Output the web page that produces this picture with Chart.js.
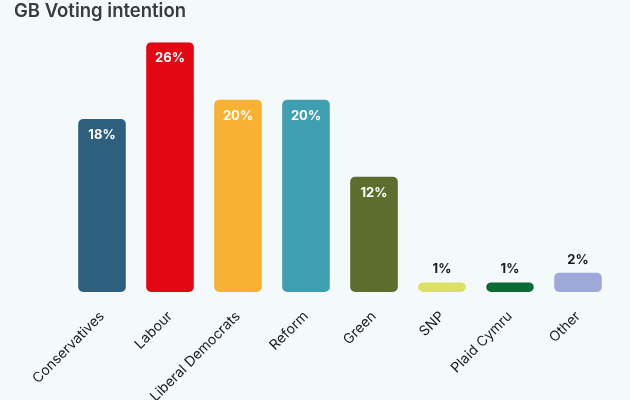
<!DOCTYPE html>
<html>
<head>
<meta charset="utf-8">
<script src="https://cdn.jsdelivr.net/npm/chart.js@4"></script>
<style>
  html, body { margin: 0; padding: 0; background: #f4f9fb; overflow: hidden; }
  #wrap { width: 630px; height: 400px; }
</style>
</head>
<body>
<div id="wrap"><canvas id="chartCanvas"></canvas></div>
<script>
// Data
const parties = ["Conservatives", "Labour", "Liberal Democrats", "Reform", "Green", "SNP", "Plaid Cymru", "Other"];
const shares = [18, 26, 20, 20, 12, 1, 1, 2];
const partyColors = ["#2e5f7f", "#e30613", "#f8b133", "#409eb3", "#5b6e2c", "#dbdf63", "#0b6b35", "#9fa9d9"];

const FONT = "Inter, Lato, sans-serif";

// value labels: inside for tall bars, above for short ones
const valueLabels = {
    id: "valueLabels",
    afterDatasetsDraw(chart) {
        const ctx = chart.ctx;
        const meta = chart.getDatasetMeta(0);
        ctx.save();
        ctx.font = "bold 13px " + FONT;
        ctx.textAlign = "center";
        ctx.textBaseline = "middle";
        meta.data.forEach((bar, i) => {
            const v = shares[i];
            if (v >= 10) {
                ctx.fillStyle = "#ffffff";
                ctx.fillText(v + "%", bar.x, bar.y + 16);
            } else {
                ctx.fillStyle = "#1a1a1a";
                ctx.fillText(v + "%", bar.x, bar.y - 13);
            }
        });
        ctx.restore();
    }
};

const ctx = document.getElementById("chartCanvas").getContext("2d");

new Chart(ctx, {
    type: "bar",
    data: {
        labels: parties,
        datasets: [{
            data: shares,
            backgroundColor: partyColors,
            borderRadius: 5,
            borderSkipped: false,
            categoryPercentage: 1,
            barPercentage: 0.7
        }]
    },
    options: {
        responsive: true,
        maintainAspectRatio: false,
        animation: false,
        layout: { padding: { left: 14, right: 18, top: 0, bottom: 0 } },
        plugins: {
            legend: { display: false },
            tooltip: { enabled: false },
            title: {
                display: true,
                text: "GB Voting intention",
                align: "start",
                color: "#3a3a3a",
                font: { family: FONT, size: 18.5, weight: "600" },
                padding: { top: 0, bottom: 20 }
            }
        },
        scales: {
            x: {
                grid: { display: false },
                border: { display: false },
                ticks: {
                    color: "#1a1a1a",
                    font: { family: FONT, size: 14 },
                    minRotation: 45,
                    maxRotation: 45,
                    padding: 8
                },
                afterFit(s) { s.height = 108; }
            },
            y: {
                min: 0,
                max: 26,
                grid: { display: false },
                border: { display: false },
                ticks: { display: false },
                afterFit(s) { s.width = 54; }
            }
        }
    },
    plugins: [valueLabels]
});
</script>
</body>
</html>
